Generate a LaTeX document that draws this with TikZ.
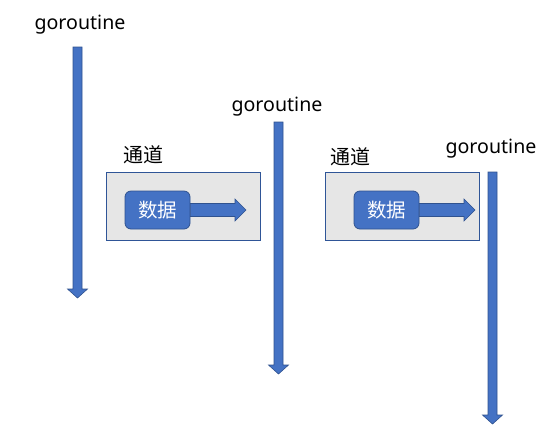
\documentclass[tikz,border=0pt]{standalone}
\usepackage{fontspec}
\usetikzlibrary{calc}
\setmainfont{Noto Sans}
\newfontfamily\cjk{Noto Sans CJK SC}
\definecolor{blk}{HTML}{4472C4}
\definecolor{blkline}{HTML}{2F528F}
\definecolor{chanfill}{HTML}{E6E6E6}
\definecolor{chanline}{HTML}{2F5597}
\tikzset{
  blockarrow/.style={fill=blk, draw=blkline, line width=0.6pt, line join=miter},
  gorlabel/.style={font=\fontsize{19.6}{22}\selectfont, anchor=base, inner sep=0pt},
  chanlabel/.style={font=\cjk\fontsize{20}{24}\selectfont, anchor=base, inner sep=0pt},
  chanbox/.style={fill=chanfill, draw=chanline, line width=0.8pt, minimum width=154pt, minimum height=68pt, inner sep=0pt},
  datanode/.style={fill=blk, draw=blkline, line width=0.8pt, rounded corners=6pt, minimum width=65pt, minimum height=38pt, inner sep=0pt, text=white, font=\cjk\fontsize{19.5}{22}\selectfont}
}
\newcommand{\grArrow}[3]{% center x, top y, tip y
  \path[blockarrow] (#1-4.5,#2) -- (#1+4.5,#2) -- (#1+4.5,#3-9) -- (#1+10,#3-9) -- (#1,#3) -- (#1-10,#3-9) -- (#1-4.5,#3-9) -- cycle;}
\begin{document}
\begin{tikzpicture}[x=1pt,y=-1pt]
\useasboundingbox (0,0) rectangle (553,432);
% goroutine labels
\node[gorlabel] (g1) at (80,29.5) {goroutine};
\node[gorlabel] (g2) at (277,111.5) {goroutine};
\node[gorlabel] (g3) at (491,153.5) {goroutine};
% goroutine timelines
\grArrow{77.5}{47}{298}
\grArrow{278.5}{122}{374}
\grArrow{492.5}{172}{424}
% channels
\node[chanlabel] (c1l) at (143,162.5) {通道};
\node[chanlabel] (c2l) at (350,164.5) {通道};
\node[chanbox] (c1) at (183,206) {};
\node[chanbox] (c2) at (402,206.5) {};
\node[datanode] (d1) at (157.5,210) {数据};
\node[datanode] (d2) at (386.5,210) {数据};
\coordinate (t1) at (246,210);
\coordinate (t2) at (475,210);
\foreach \d/\t in {d1/t1, d2/t2}{
  \path[blockarrow] ($(\d.east)+(0,-6.5)$) -- ($(\t)+(-11,-6.5)$) -- ($(\t)+(-11,-11)$) -- (\t) -- ($(\t)+(-11,11)$) -- ($(\t)+(-11,6.5)$) -- ($(\d.east)+(0,6.5)$) -- cycle;
}
\end{tikzpicture}
\end{document}
